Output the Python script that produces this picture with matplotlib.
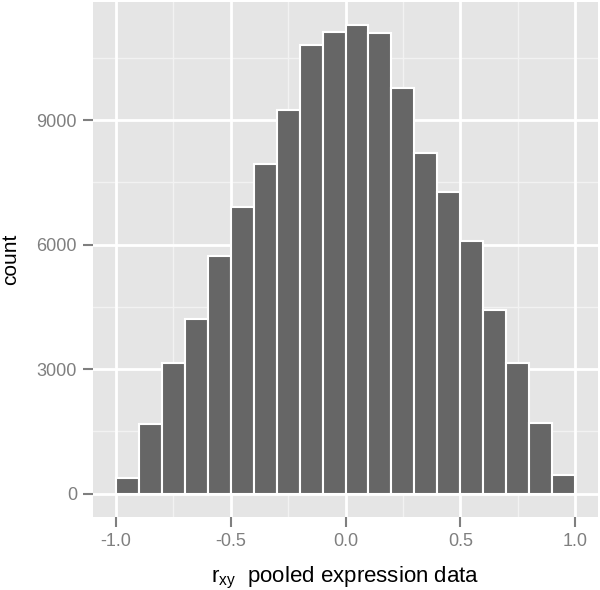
import numpy as np
import matplotlib
matplotlib.use("Agg")
import matplotlib.pyplot as plt

plt.rcParams['font.family'] = ['Liberation Sans', 'DejaVu Sans']
plt.rcParams['mathtext.fontset'] = 'custom'
plt.rcParams['mathtext.rm'] = 'Liberation Sans'
plt.rcParams['mathtext.it'] = 'Liberation Sans'

# histogram bins (width 0.1) and counts
bin_edges = np.round(np.arange(-1.0, 1.0001, 0.1), 2)
counts = [376, 1672, 3136, 4216, 5720, 6907, 7944, 9240, 10817, 11128,
          11280, 11096, 9760, 8208, 7272, 6096, 4432, 3152, 1696, 456]

x_ticks = [-1.0, -0.5, 0.0, 0.5, 1.0]
x_labels = ["-1.0", "-0.5", "0.0", "0.5", "1.0"]
y_ticks = [0, 3000, 6000, 9000]

fig = plt.figure(figsize=(6, 5.9), dpi=100)
ax = fig.add_axes([0.155, 0.1237, 0.8417, 0.873])
ax.set_facecolor('#E5E5E5')

# grid lines, ggplot style
for v in [-0.75, -0.25, 0.25, 0.75]:
    ax.axvline(v, color='#F2F2F2', lw=1.0, zorder=0)
for v in [1500, 4500, 7500, 10500]:
    ax.axhline(v, color='#F2F2F2', lw=1.0, zorder=0)
for v in x_ticks:
    ax.axvline(v, color='white', lw=2.0, zorder=0)
for v in y_ticks:
    ax.axhline(v, color='white', lw=2.0, zorder=0)

ax.bar(bin_edges[:-1], counts, width=0.1, align='edge',
       color='#666666', edgecolor='white', linewidth=1.5, zorder=2)

ax.set_xlim(-1.1, 1.1)
ax.set_ylim(-564, 11844)
ax.set_xticks(x_ticks)
ax.set_xticklabels(x_labels)
ax.set_yticks(y_ticks)

for s in ax.spines.values():
    s.set_visible(False)
ax.tick_params(axis='both', colors='#7F7F7F', labelcolor='#7F7F7F',
               labelsize=13, length=7.5, width=1.5, pad=4)

ax.set_xlabel(r'$\mathregular{r_{xy}}$  pooled expression data',
              fontsize=16, labelpad=11)
ax.set_ylabel('count', fontsize=15, labelpad=12)

fig.savefig('out.png', dpi=100)
